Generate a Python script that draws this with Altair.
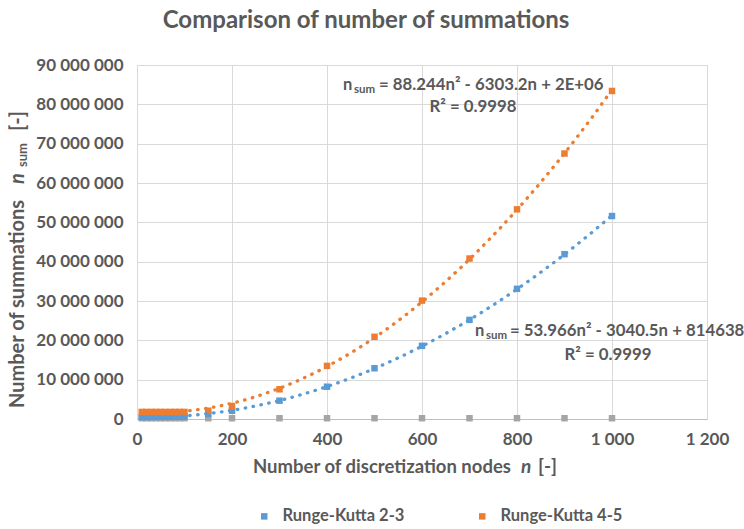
import altair as alt
import pandas as pd

# ---- data ----
n_nodes = [10, 20, 30, 40, 50, 60, 70, 80, 90, 100, 150, 200, 300, 400, 500, 600, 700, 800, 900, 1000]
rk23 = [500000, 510000, 520000, 530000, 540000, 550000, 560000, 570000, 580000, 600000,
        1300000, 2100000, 4660000, 8200000, 12900000, 18600000, 25200000, 33100000, 41900000, 51600000]
rk45 = [1800000, 1800000, 1800000, 1800000, 1800000, 1800000, 1800000, 1800000, 1800000, 1800000,
        2100000, 3300000, 7550000, 13500000, 20900000, 30100000, 40800000, 53300000, 67500000, 83400000]
other = [200000, 200000, 200000, 200000, 200000, 200000, 200000, 200000, 200000, 200000,
         200000, 200000, 200000, 200000, 200000, 200000, 200000, 200000, 200000, 200000]

series_names = ["Runge-Kutta 2-3", "Runge-Kutta 4-5", "Other"]
series_colors = ["#5B9BD5", "#ED7D31", "#A5A5A5"]

x_ticks = [0, 200, 400, 600, 800, 1000, 1200]
y_ticks = [0, 10000000, 20000000, 30000000, 40000000, 50000000, 60000000, 70000000, 80000000, 90000000]

rows = []
for name, vals in zip(series_names, [rk23, rk45, other]):
    for n, v in zip(n_nodes, vals):
        rows.append({"n": n, "v": v, "series": name})
df = pd.DataFrame(rows)

FONT = "Lato"
GREY = "#595959"
W, H = 570, 354
LEFT, TOP = 137, 65

color_scale = alt.Scale(domain=series_names, range=series_colors)
color = alt.Color(
    "series:N",
    scale=color_scale,
    legend=alt.Legend(
        values=series_names[:2], orient="none", direction="horizontal",
        legendX=119, legendY=443, title=None, symbolType="square", symbolSize=42,
        labelFont=FONT, labelFontSize=16.5, labelFontWeight="bold", labelColor=GREY,
        columnPadding=69, labelOffset=10, symbolStrokeWidth=0, padding=0,
    ),
)

fmt = "replace(format(datum.value, ','), regexp(',', 'g'), ' ')"
x = alt.X("n:Q", scale=alt.Scale(domain=[0, 1200], nice=False),
          axis=alt.Axis(values=x_ticks, title=None, labelExpr=fmt, labelFont=FONT,
                        labelFontSize=17, labelFontWeight="bold", labelColor=GREY,
                        labelPadding=12, ticks=False, domainColor="#BFBFBF",
                        gridColor="#D9D9D9", labelFlush=False, labelOverlap=False))
y = alt.Y("v:Q", scale=alt.Scale(domain=[0, 90000000], nice=False),
          axis=alt.Axis(values=y_ticks, title=None, labelExpr=fmt, labelFont=FONT,
                        labelFontSize=17, labelFontWeight="bold", labelColor=GREY,
                        labelPadding=14, ticks=False, domain=False,
                        gridColor="#D9D9D9", labelFlush=False, labelOverlap=False))

base = alt.Chart(df)
points = base.mark_point(shape="square", filled=True, size=42, opacity=1).encode(
    x=x, y=y, color=color, order=alt.Order("series:N"))

trend = base.transform_filter(
    alt.FieldOneOfPredicate(field="series", oneOf=series_names[:2])
).transform_regression("n", "v", method="poly", order=2, groupby=["series"]).mark_line(
    strokeDash=[0.5, 7.5], strokeCap="round", strokeWidth=3.3
).encode(x=x, y=y, color=alt.Color("series:N", scale=color_scale, legend=None))

one = pd.DataFrame({"k": [0]})


def txt(s, ax, ay, size, align="left", angle=0, italic=False, weight="bold", baseline="middle"):
    kw = dict(font=FONT, fontSize=size, fontWeight=weight, color=GREY, align=align,
              baseline=baseline, angle=angle)
    if italic:
        kw["fontStyle"] = "italic"
    return alt.Chart(one).mark_text(**kw).encode(
        x=alt.value(ax - LEFT), y=alt.value(ay - TOP), text=alt.value(s))


texts = [
    txt("Comparison of number of summations", 366, 21, 24, align="center"),
    # y axis title
    txt("Number of summations", 18, 408, 20, angle=270),
    txt("n", 18, 184, 20, angle=270, italic=True),
    txt("sum", 23, 167, 13, angle=270),
    txt("[-]", 18, 131, 20, angle=270),
    # x axis title
    txt("Number of discretization nodes", 253, 467, 18.5),
    txt("n", 521, 467, 19, italic=True),
    txt("[-]", 538, 467, 19),
    # orange equation
    txt("n", 343, 85, 16.5),
    txt("sum", 354, 90, 11.5),
    txt("= 88.244n² - 6303.2n + 2E+06", 379, 85, 16.8),
    txt("R² = 0.9998", 473, 107, 16.8, align="center"),
    # blue equation
    txt("n", 475, 331, 16.5),
    txt("sum", 486, 336, 11.5),
    txt("= 53.966n² - 3040.5n + 814638", 510, 331, 16.8),
    txt("R² = 0.9999", 608, 355, 16.8, align="center"),
]

chart = alt.layer(points, trend, *texts).properties(
    width=W, height=H,
    padding={"left": LEFT, "top": TOP, "right": 744 - LEFT - W, "bottom": 529 - TOP - H},
    autosize=alt.AutoSizeParams(type="none"),
).configure_view(stroke=None).configure(background="white")

chart.save("out.html", embed_options={"renderer": "svg", "actions": False})
